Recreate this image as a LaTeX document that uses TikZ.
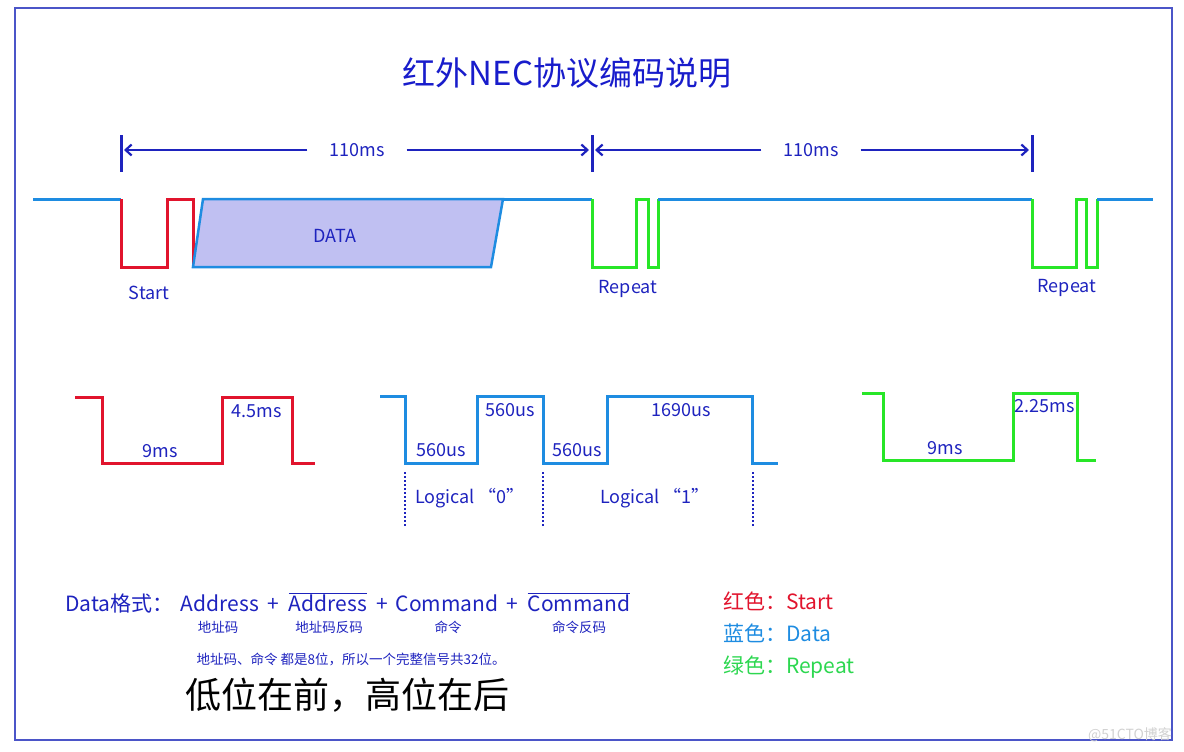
\documentclass[tikz,border=0pt]{standalone}
\usepackage{fontspec}
\setmainfont{Noto Sans CJK SC}
\usetikzlibrary{arrows.meta}

\definecolor{frameblue}{RGB}{75,85,200}
\definecolor{textblue}{RGB}{30,35,190}
\definecolor{sigblue}{RGB}{30,140,225}
\definecolor{sigred}{RGB}{225,20,45}
\definecolor{siggreen}{RGB}{40,230,40}
\definecolor{keygreen}{RGB}{45,215,80}
\definecolor{datafill}{RGB}{192,192,242}

\newcommand{\fs}[1]{\fontsize{#1}{#1}\selectfont}
\newcommand{\ovl}[1]{$\overline{\mbox{#1}}$}

\tikzset{
    wave/.style={line width=3pt, line join=miter},
    lbl/.style={text=textblue, inner sep=0pt, font=\fs{18}},
    fmtword/.style={lbl, font=\fs{21}, anchor=base},
    dimline/.style={textblue, line width=2.2pt},
    dimtick/.style={textblue, line width=3pt},
    hint/.style={text=textblue, inner sep=0pt, font=\fs{13.5}},
}

\begin{document}
\begin{tikzpicture}[x=1pt, y=-1pt]
    \useasboundingbox (0,0) rectangle (1184,752);
    \draw[frameblue, line width=1.5pt] (15,8) rectangle (1172,740);

    \node[lbl, font=\fs{33}, text=textblue!80!blue] (title) at (567,73) {红外NEC协议编码说明};

    % 110ms markers
    \draw[dimtick] (121,135) -- (121,172) (592,135) -- (592,172) (1032,135) -- (1032,172);
    \coordinate (m1) at (124,150);
    \coordinate (m2) at (589,150);
    \coordinate (m3) at (595,150);
    \coordinate (m4) at (1029,150);
    \node[lbl, inner xsep=22pt] (lenA) at (357,150) {110ms};
    \node[lbl, inner xsep=22pt] (lenB) at (811,150) {110ms};
    \draw[dimline, -{Straight Barb[length=6pt,width=11pt]}] (lenA.west) -- (m1);
    \draw[dimline, -{Straight Barb[length=6pt,width=11pt]}] (lenA.east) -- (m2);
    \draw[dimline, -{Straight Barb[length=6pt,width=11pt]}] (lenB.west) -- (m3);
    \draw[dimline, -{Straight Barb[length=6pt,width=11pt]}] (lenB.east) -- (m4);

    % whole frame
    \draw[wave, sigblue] (33,199) -- (121,199);
    \draw[wave, sigred] (121,199) -- ++(0,68) -- ++(46,0) -- ++(0,-68) -- ++(26,0) -- ++(0,68);
    \draw[sigblue, line width=2.5pt, fill=datafill] (193,267) -- (203,199) -- (503,199) -- (491,267) -- cycle;
    \node[lbl] (data) at (335,236) {DATA};
    \draw[wave, sigblue] (503,199) -- (592,199);
    \draw[wave, siggreen] (592,199) -- ++(0,68) -- ++(44,0) -- ++(0,-68) -- ++(12,0) -- ++(0,68) -- ++(10,0) -- ++(0,-68);
    \draw[wave, sigblue] (658,199) -- (1032,199);
    \draw[wave, siggreen] (1032,199) -- ++(0,68) -- ++(44,0) -- ++(0,-68) -- ++(10,0) -- ++(0,68) -- ++(11,0) -- ++(0,-68);
    \draw[wave, sigblue] (1097,199) -- (1153,199);
    \node[lbl] (start) at (149,293) {Start};
    \node[lbl] (rep1) at (628,289) {Repeat};
    \node[lbl] (rep2) at (1067,288) {Repeat};

    % start pulse
    \draw[wave, sigred] (75,397) -- (102,397) -- (102,463) -- (222,463) -- (222,397) -- (292,397) -- (292,463) -- (315,463);
    \node[lbl] (lead) at (160,451) {9ms};
    \node[lbl] (space) at (257,411) {4.5ms};

    % logical bits
    \draw[wave, sigblue] (380,396) -- (405,396) -- (405,463) -- (477,463) -- (477,396) -- (543,396) -- (543,463)
        -- (607,463) -- (607,396) -- (752,396) -- (752,463) -- (778,463);
    \node[lbl] (zlow) at (441,450) {560us};
    \node[lbl] (zhigh) at (510,410) {560us};
    \node[lbl] (olow) at (577,450) {560us};
    \node[lbl] (ohigh) at (681,410) {1690us};
    \draw[textblue, line width=2pt, dotted] (405,472) -- (405,527) (543,472) -- (543,527) (753,472) -- (753,527);
    \node[lbl] (bit0) at (470,498) {Logical “0”};
    \node[lbl] (bit1) at (655,498) {Logical “1”};

    % repeat pulse
    \draw[wave, siggreen] (862,393) -- (883,393) -- (883,460) -- (1013,460) -- (1013,393) -- (1077,393) -- (1077,460) -- (1096,460);
    \node[lbl] (rlead) at (945,448) {9ms};
    \node[lbl] (rspace) at (1045,406) {2.25ms};

    % data format
    \node[fmtword, anchor=base west] (fmt) at (65,611) {Data格式：};
    \node[fmtword] (addr) at (220,611) {Address};
    \node[fmtword] (p1) at (273,611) {+};
    \node[fmtword] (naddr) at (328,611) {\ovl{Address}};
    \node[fmtword] (p2) at (382,611) {+};
    \node[fmtword] (cmd) at (447,611) {Command};
    \node[fmtword] (p3) at (512,611) {+};
    \node[fmtword] (ncmd) at (579,611) {\ovl{Command}};
    \node[hint] (addrcn) at (218,627) {地址码};
    \node[hint] (naddrcn) at (329,627) {地址码反码};
    \node[hint] (cmdcn) at (448,627) {命令};
    \node[hint] (ncmdcn) at (579,627) {命令反码};
    \node[hint] (bits) at (351,659) {地址码、命令 都是8位，所以一个完整信号共32位。};
    \node[inner sep=0pt, font=\fs{36}] (order) at (347,695) {低位在前，高位在后};

    % colour key
    \node[inner sep=0pt, anchor=west, font=\fs{21}, text=sigred] (kred) at (723,601) {红色：Start};
    \node[inner sep=0pt, anchor=west, font=\fs{21}, text=sigblue] (kblue) at (723,633) {蓝色：Data};
    \node[inner sep=0pt, anchor=west, font=\fs{21}, text=keygreen] (kgreen) at (723,667) {绿色：Repeat};

    \node[inner sep=0pt, font=\fs{14}, text=black!18] (mark) at (1130,735) {@51CTO博客};
\end{tikzpicture}
\end{document}
